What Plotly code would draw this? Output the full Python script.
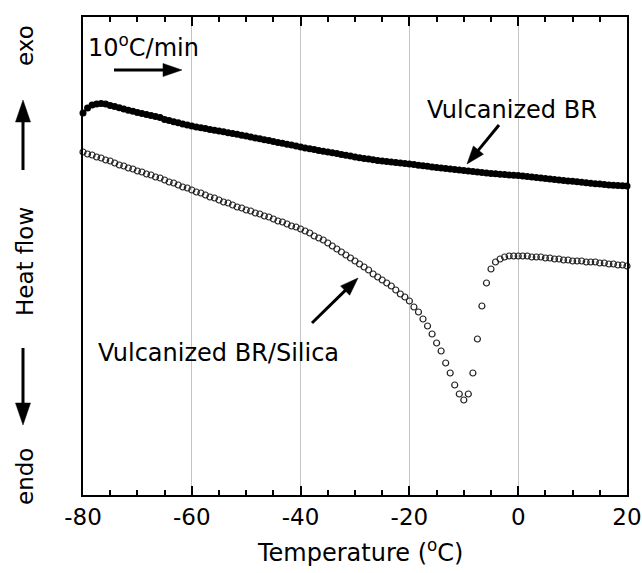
import math
import plotly.graph_objects as go

# ---------------- data ----------------
temperature = [
    -80.0, -79.17, -78.33, -77.5, -76.67, -75.83,
    -75.0, -74.17, -73.33, -72.5, -71.67, -70.83,
    -70.0, -69.17, -68.33, -67.5, -66.67, -65.83,
    -65.0, -64.17, -63.33, -62.5, -61.67, -60.83,
    -60.0, -59.17, -58.33, -57.5, -56.67, -55.83,
    -55.0, -54.17, -53.33, -52.5, -51.67, -50.83,
    -50.0, -49.17, -48.33, -47.5, -46.67, -45.83,
    -45.0, -44.17, -43.33, -42.5, -41.67, -40.83,
    -40.0, -39.17, -38.33, -37.5, -36.67, -35.83,
    -35.0, -34.17, -33.33, -32.5, -31.67, -30.83,
    -30.0, -29.17, -28.33, -27.5, -26.67, -25.83,
    -25.0, -24.17, -23.33, -22.5, -21.67, -20.83,
    -20.0, -19.17, -18.33, -17.5, -16.67, -15.83,
    -15.0, -14.17, -13.33, -12.5, -11.67, -10.83,
    -10.0, -9.17, -8.33, -7.5, -6.67, -5.83,
    -5.0, -4.17, -3.33, -2.5, -1.67, -0.83,
    0.0, 0.83, 1.67, 2.5, 3.33, 4.17,
    5.0, 5.83, 6.67, 7.5, 8.33, 9.17,
    10.0, 10.83, 11.67, 12.5, 13.33, 14.17,
    15.0, 15.83, 16.67, 17.5, 18.33, 19.17,
    20.0,
]

# heat flow, arbitrary units (exo up)
heat_flow_br = [
    387, 392, 395, 396, 396.5, 396,
    394.5, 393.5, 392.3, 391, 389.8, 388.7,
    387.5, 386.4, 385.4, 384.4, 383.4, 382.5,
    380.5, 379.4, 378.3, 377.2, 376.1, 375,
    374, 373.1, 372.2, 371.4, 370.6, 369.8,
    369, 368.2, 367.3, 366.5, 365.7, 364.8,
    364, 363, 362.1, 361.2, 360.3, 359.4,
    358.5, 357.6, 356.7, 355.8, 354.9, 353.9,
    353, 352.1, 351.3, 350.4, 349.6, 348.8,
    348, 347.2, 346.4, 345.6, 344.8, 343.9,
    343, 342.3, 341.6, 340.9, 340.3, 339.6,
    339, 338.5, 338, 337.5, 337, 336.5,
    336, 335.4, 334.8, 334.2, 333.7, 333.1,
    332.6, 332.1, 331.6, 331.1, 330.6, 330.1,
    329.6, 329.1, 328.6, 328.1, 327.6, 327.1,
    326.6, 326.2, 325.8, 325.4, 325, 324.7,
    324.4, 323.9, 323.4, 322.9, 322.4, 321.9,
    321.5, 321, 320.5, 320, 319.5, 319,
    318.7, 318.2, 317.7, 317.2, 316.7, 316.2,
    315.9, 315.5, 315.1, 314.7, 314.4, 314.2,
    314,
]

heat_flow_br_silica = [
    348, 346, 345, 343, 342, 340,
    339, 337, 335, 334, 332, 331,
    329, 328, 326, 325, 323, 322,
    320, 318, 317, 315, 313, 312,
    310, 308, 307, 305, 303, 302,
    300, 298, 297, 295, 293, 292,
    290, 289, 287, 286, 284, 283,
    281, 279, 278, 276, 274, 273,
    271, 269, 267, 264, 262, 260,
    257, 254, 251, 248, 245, 242,
    239, 236, 233, 230, 226, 223,
    220, 217, 214, 210, 206, 203,
    199, 193, 188, 181, 174, 166,
    157, 149, 137, 127, 115, 106,
    100, 106, 127, 161, 194, 217,
    231, 238, 241, 243, 244, 244,
    244, 244, 244, 243, 243, 243,
    242, 242, 241, 241, 240, 240,
    239, 239, 239, 238, 238, 238,
    237, 237, 236, 236, 235, 235,
    234,
]

x_ticks = [-80, -60, -40, -20, 0, 20]
x_range = [-80, 20]
y_range = [5, 483]

FONT = "DejaVu Sans"
W, H = 642, 573
ML, MR, MT, MB = 83, 15, 17, 78
PW, PH = W - ML - MR, H - MT - MB


def px2paper(px, py):
    return (px - ML) / PW, (H - MB - py) / PH


fig = go.Figure()
fig.add_trace(go.Scatter(
    x=temperature, y=heat_flow_br, mode="markers", name="Vulcanized BR",
    marker=dict(symbol="circle", size=7, color="black"),
    cliponaxis=False, showlegend=False,
))
fig.add_trace(go.Scatter(
    x=temperature, y=heat_flow_br_silica, mode="markers", name="Vulcanized BR/Silica",
    marker=dict(symbol="circle-open", size=6, color="#222222", line=dict(width=1.2)),
    cliponaxis=False, showlegend=False,
))

shapes = []


def arrow(tail, tip, head_len=18, half_w=6.5, width=3):
    (x0, y0), (x1, y1) = tail, tip
    dx, dy = x1 - x0, y1 - y0
    L = math.hypot(dx, dy)
    ux, uy = dx / L, dy / L
    bx, by = x1 - head_len * ux, y1 - head_len * uy
    nx, ny = -uy, ux
    a = px2paper(x0, y0)
    b = px2paper(bx + ux * 1, by + uy * 1)
    shapes.append(dict(type="line", xref="paper", yref="paper",
                       x0=a[0], y0=a[1], x1=b[0], y1=b[1],
                       line=dict(color="black", width=width)))
    p1 = px2paper(x1, y1)
    p2 = px2paper(bx + half_w * nx, by + half_w * ny)
    p3 = px2paper(bx - half_w * nx, by - half_w * ny)
    path = f"M {p1[0]},{p1[1]} L {p2[0]},{p2[1]} L {p3[0]},{p3[1]} Z"
    shapes.append(dict(type="path", xref="paper", yref="paper", path=path,
                       fillcolor="black", line=dict(color="black", width=0.5)))


arrow((114, 70), (182, 70), head_len=19, half_w=6.5)
arrow((499, 125), (467, 164), head_len=18, half_w=6.5)
arrow((312, 323), (358, 278), head_len=18, half_w=6.5)
arrow((23, 170), (23, 100), head_len=22, half_w=7.5)
arrow((23, 348), (23, 425), head_len=22, half_w=7.5)

annotations = []


def label(text, px, py, size=23, angle=0, xanchor="center"):
    x, y = px2paper(px, py)
    annotations.append(dict(text=text, x=x, y=y, xref="paper", yref="paper",
                            showarrow=False, textangle=angle, xanchor=xanchor,
                            yanchor="middle",
                            font=dict(family=FONT, size=size, color="black")))


label("exo", 25, 46, angle=-90)
label("Heat flow", 25, 262, angle=-90)
label("endo", 25, 477, angle=-90)
label("10<sup>o</sup>C/min", 86, 46, size=24, xanchor="left")
label("Vulcanized BR", 512, 110, size=24)
label("Vulcanized BR/Silica", 218, 353, size=24)
label("Temperature (<sup>o</sup>C)", 360, 551, size=24)

fig.update_layout(
    width=W, height=H,
    margin=dict(l=ML, r=MR, t=MT, b=MB, autoexpand=False),
    plot_bgcolor="white", paper_bgcolor="white",
    shapes=shapes, annotations=annotations,
    font=dict(family=FONT, color="black"),
)
fig.update_xaxes(
    range=x_range, tickvals=x_ticks, ticktext=[str(v) for v in x_ticks],
    ticks="inside", ticklen=9, tickwidth=1.5, tickcolor="black",
    showline=True, linewidth=2, linecolor="black", mirror="ticks",
    showgrid=True, gridcolor="#c4c4c4", gridwidth=1, zeroline=False,
    minor=dict(ticks="inside", ticklen=5, tickwidth=1.5, tickcolor="black",
               dtick=5, tick0=0, showgrid=False),
    tickfont=dict(family=FONT, size=23, color="black"),
    automargin=False,
)
fig.update_yaxes(
    range=y_range, showticklabels=False, ticks="",
    showline=True, linewidth=2, linecolor="black", mirror=True,
    showgrid=False, zeroline=False, automargin=False,
)

fig.write_html("out.html")
